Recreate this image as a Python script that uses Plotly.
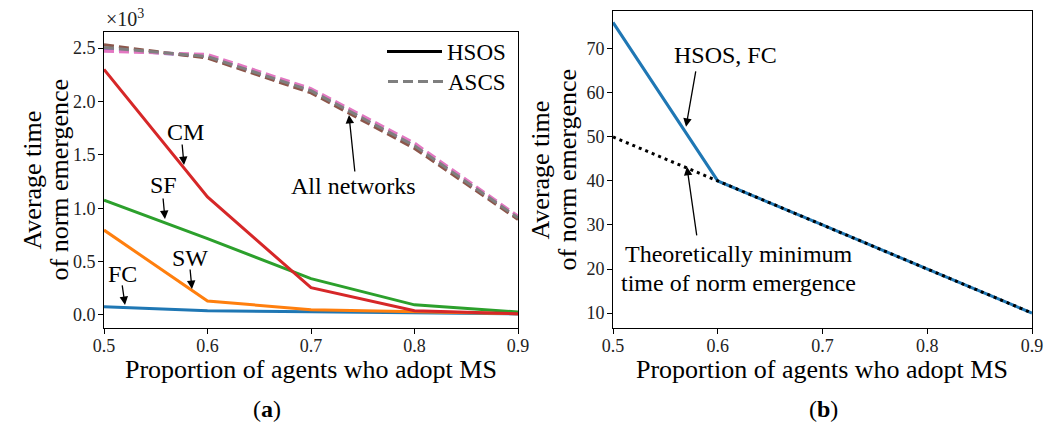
import plotly.graph_objects as go

# ---------------- data ----------------
x_prop = [0.5, 0.6, 0.7, 0.8, 0.9]

# panel (a): HSOS (solid)
hsos_fc = [76, 40, 30, 20, 10]
hsos_sw = [795, 130, 50, 30, 12]
hsos_sf = [1075, 715, 340, 95, 28]
hsos_cm = [2300, 1105, 255, 40, 12]

# panel (a): ASCS (dashed), one per network
ascs_fc = [2490, 2420, 2095, 1580, 905]
ascs_sw = [2530, 2405, 2080, 1560, 895]
ascs_sf = [2470, 2440, 2120, 1610, 925]
ascs_cm = [2505, 2420, 2100, 1585, 910]

# panel (b)
fc_time = [76, 40, 30, 20, 10]
theory_min = [50, 40, 30, 20, 10]

y_ticks_a = [0, 500, 1000, 1500, 2000, 2500]
y_ticklabels_a = ["0.0", "0.5", "1.0", "1.5", "2.0", "2.5"]
x_ticks = [0.5, 0.6, 0.7, 0.8, 0.9]
x_ticklabels = ["0.5", "0.6", "0.7", "0.8", "0.9"]
y_ticks_b = [10, 20, 30, 40, 50, 60, 70]

FONT = "Liberation Serif, Times New Roman, Times, serif"
W, H = 1057, 423

fig = go.Figure()

solid = [("FC", hsos_fc, "#1f77b4"), ("SW", hsos_sw, "#ff7f0e"),
         ("SF", hsos_sf, "#2ca02c"), ("CM", hsos_cm, "#d62728")]
for name, ys, c in solid:
    fig.add_trace(go.Scatter(x=x_prop, y=ys, mode="lines", showlegend=False,
                             line=dict(color=c, width=3), xaxis="x", yaxis="y"))

dashed = [("FC", ascs_fc, "#9467bd"), ("SW", ascs_sw, "#8c564b"),
          ("SF", ascs_sf, "#e377c2"), ("CM", ascs_cm, "#7f7f7f")]
for name, ys, c in dashed:
    fig.add_trace(go.Scatter(x=x_prop, y=ys, mode="lines", showlegend=False,
                             line=dict(color=c, width=3, dash="10px,5px"),
                             xaxis="x", yaxis="y"))

# legend entries
fig.add_trace(go.Scatter(x=[None], y=[None], mode="lines", name="HSOS", legend="legend",
                         line=dict(color="black", width=3), xaxis="x", yaxis="y"))
fig.add_trace(go.Scatter(x=[None], y=[None], mode="lines", name="ASCS", legend="legend2",
                         line=dict(color="#7f7f7f", width=3, dash="10px,5px"),
                         xaxis="x", yaxis="y"))

# panel (b)
fig.add_trace(go.Scatter(x=x_prop, y=fc_time, mode="lines", showlegend=False,
                         line=dict(color="#1f77b4", width=3), xaxis="x2", yaxis="y2"))
fig.add_trace(go.Scatter(x=x_prop, y=theory_min, mode="lines", showlegend=False,
                         line=dict(color="black", width=3, dash="3px,4px"),
                         xaxis="x2", yaxis="y2"))

def px_x(p):
    return p / W

def px_y(p):
    return 1 - p / H

axis_common = dict(showline=True, linecolor="black", linewidth=1, mirror=True,
                   ticks="outside", ticklen=5, tickcolor="black", showgrid=False,
                   zeroline=False, automargin=False,
                   tickfont=dict(family=FONT, size=18, color="#222"))

legend_common = dict(xanchor="right", yanchor="top", bgcolor="rgba(0,0,0,0)",
                     font=dict(family=FONT, size=23, color="black"),
                     tracegroupgap=0, itemwidth=55)

fig.update_layout(
    width=W, height=H,
    margin=dict(l=0, r=0, t=0, b=0),
    plot_bgcolor="white", paper_bgcolor="white",
    font=dict(family=FONT, color="black"),
    xaxis=dict(domain=[px_x(104), px_x(518)], range=[0.5, 0.9], ticklabelstandoff=-4,
               tickvals=x_ticks, ticktext=x_ticklabels, anchor="y", **axis_common),
    yaxis=dict(domain=[px_y(328), px_y(32)], range=[-122, 2650], ticklabelstandoff=-1,
               tickvals=y_ticks_a, ticktext=y_ticklabels_a, anchor="x", **axis_common),
    xaxis2=dict(domain=[px_x(613), px_x(1032)], range=[0.5, 0.9], ticklabelstandoff=-4,
                tickvals=x_ticks, ticktext=x_ticklabels, anchor="y2", **axis_common),
    yaxis2=dict(domain=[px_y(328), px_y(11)], range=[6.6, 78.6], ticklabelstandoff=-1,
                tickvals=y_ticks_b, anchor="x2", **axis_common),
    legend=dict(x=px_x(511), y=px_y(30), **legend_common),
    legend2=dict(x=px_x(511), y=px_y(60), **legend_common),
)

ann = []

def arrow(xr, yr, x, y, ax, ay):
    ann.append(dict(xref=xr, yref=yr, x=x, y=y, ax=ax, ay=ay, text="",
                    showarrow=True, arrowhead=2, arrowsize=1.3, arrowwidth=1.3,
                    arrowcolor="black"))

def label(xr, yr, x, y, text, size=24):
    ann.append(dict(xref=xr, yref=yr, x=x, y=y, text=text, showarrow=False,
                    xanchor="center", yanchor="middle",
                    font=dict(family=FONT, size=size, color="black")))

# panel (a) labels
label("x", "y", 0.5783, 1713, "CM")
arrow("x", "y", 0.5773, 1404, -2, -22)
label("x", "y", 0.557, 1217, "SF")
arrow("x", "y", 0.5589, 899, -2, -22)
label("x", "y", 0.583, 534, "SW")
arrow("x", "y", 0.585, 243, -2, -21)
label("x", "y", 0.5174, 384, "FC")
arrow("x", "y", 0.5203, 94, -3, -21)
label("x", "y", 0.7406, 1208, "All networks")
arrow("x", "y", 0.7367, 1873, 6, 58)

# panel (b) labels
label("x2", "y2", 0.607, 68.6, "HSOS, FC")
arrow("x2", "y2", 0.5697, 52.3, 10, -57)
label("paper", "paper", px_x(739), px_y(254), "Theoretically minimum")
label("paper", "paper", px_x(738), px_y(283), "time of norm emergence")
arrow("x2", "y2", 0.5706, 43.2, 10, 70)

# multiplier
ann.append(dict(xref="paper", yref="paper", x=px_x(104), y=px_y(18),
                text="×10<sup>3</sup>", showarrow=False, xanchor="left",
                yanchor="middle", font=dict(family=FONT, size=20, color="#222")))

# axis titles
for cx in (311, 822):
    ann.append(dict(xref="paper", yref="paper", x=px_x(cx), y=px_y(369),
                    text="Proportion of agents who adopt MS", showarrow=False,
                    xanchor="center", yanchor="middle",
                    font=dict(family=FONT, size=26, color="black")))
for cx, cy in ((46, 180), (553, 170)):
    for dx, t in ((-13.5, "Average time"), (13.5, "of norm emergence")):
        ann.append(dict(xref="paper", yref="paper", x=px_x(cx + dx), y=px_y(cy),
                        text=t, showarrow=False,
                        textangle=-90, xanchor="center", yanchor="middle",
                        font=dict(family=FONT, size=26, color="black")))

# panel letters
for cx, t in ((267, "(<b>a</b>)"), (823, "(<b>b</b>)")):
    ann.append(dict(xref="paper", yref="paper", x=px_x(cx), y=px_y(409),
                    text=t, showarrow=False, xanchor="center", yanchor="middle",
                    font=dict(family=FONT, size=24, color="black")))

fig.update_layout(annotations=ann)
fig.write_html("out.html", config={"displayModeBar": False},
               post_script="document.body.style.margin='0';document.body.style.padding='0';")
